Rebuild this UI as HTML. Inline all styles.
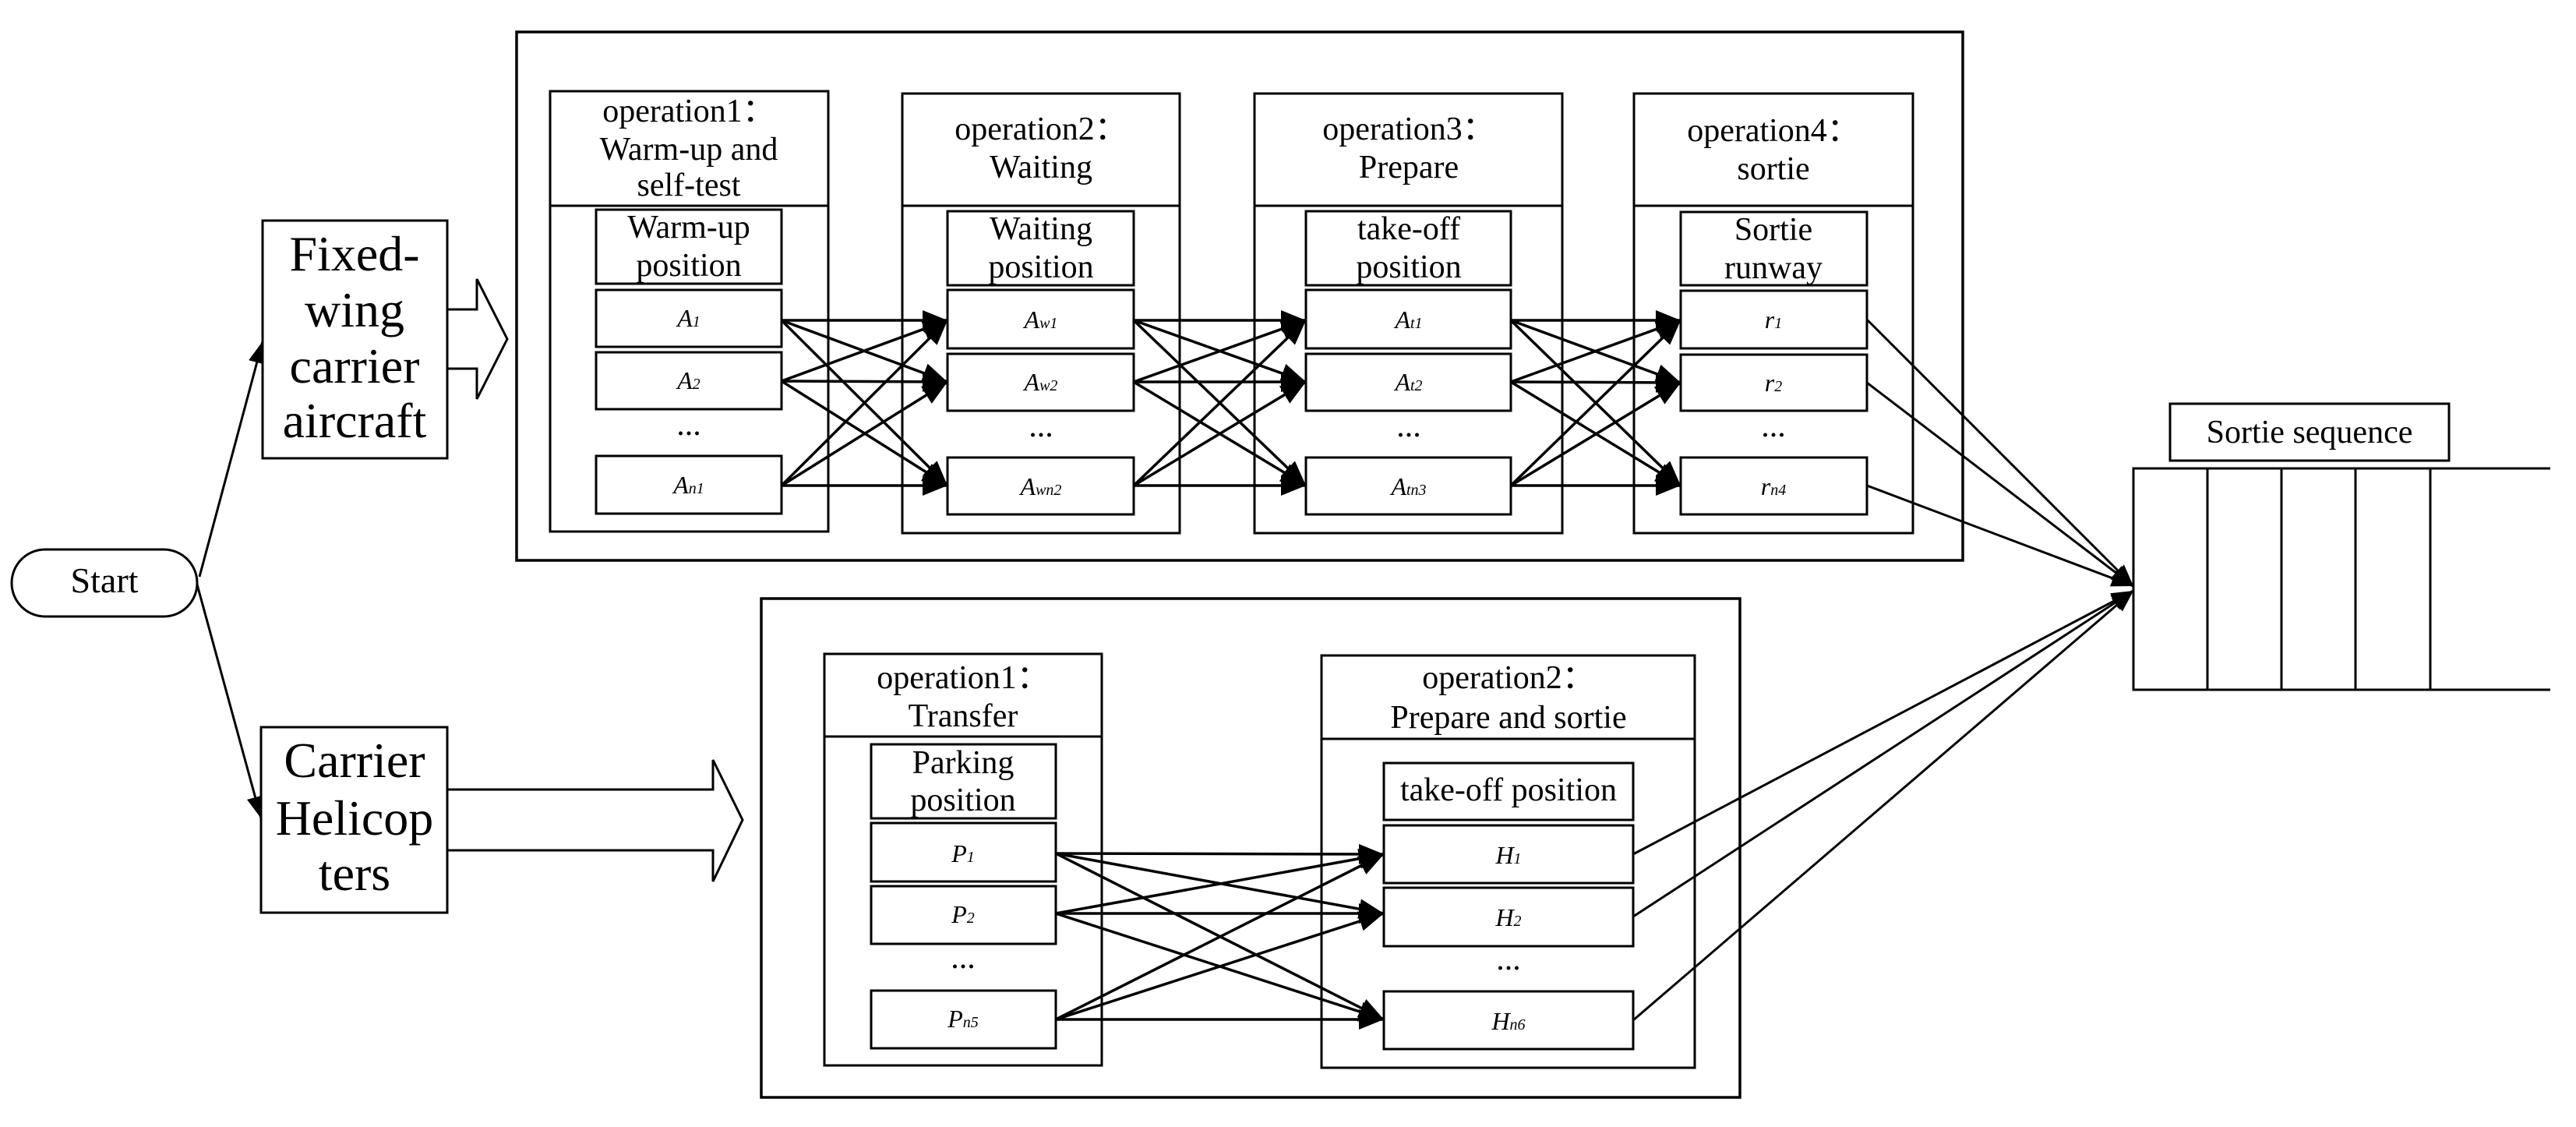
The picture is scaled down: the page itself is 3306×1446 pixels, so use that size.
<!DOCTYPE html>
<html><head><meta charset="utf-8"><style>
html,body{margin:0;padding:0;background:#fff}
svg{display:block}
text{font-family:"Liberation Serif",serif;fill:#000}
.h{font-size:42px;text-anchor:middle}
.big{font-size:64px;text-anchor:middle}
.it{font-size:32px;font-style:italic;text-anchor:middle}
.sub{font-size:20px}
.b{fill:#fff;stroke:#000;stroke-width:3}
.l{stroke:#000;stroke-width:3.5;fill:none}
.t{stroke:#000;stroke-width:3;fill:none}
</style></head><body>
<svg width="3306" height="1446" viewBox="0 0 3306 1446" xmlns="http://www.w3.org/2000/svg">
<defs>
<marker id="ar" markerUnits="userSpaceOnUse" markerWidth="34" markerHeight="26" refX="32" refY="13" orient="auto">
<path d="M0,0 L32,13 L0,26 z" fill="#000"/></marker>
<marker id="ar2" markerUnits="userSpaceOnUse" markerWidth="30" markerHeight="22" refX="28" refY="11" orient="auto">
<path d="M0,0 L28,11 L0,22 z" fill="#000"/></marker>
</defs>

<!-- Start -->
<rect x="15" y="705" width="238" height="86" rx="43" class="b"/>
<text x="134" y="760" style="font-size:46px;text-anchor:middle">Start</text>
<line x1="256" y1="740" x2="337" y2="438" class="t" marker-end="url(#ar2)"/>
<line x1="253" y1="750" x2="335" y2="1050" class="t" marker-end="url(#ar2)"/>

<!-- Fixed-wing -->
<rect x="337" y="283" width="237" height="305" class="b"/>
<text class="big" x="455" y="347">Fixed-</text>
<text class="big" x="455" y="419">wing</text>
<text class="big" x="455" y="491">carrier</text>
<text class="big" x="455" y="561">aircraft</text>
<path d="M574,397 L612,397 L612,358 L651,435 L612,512 L612,473 L574,473" class="t"/>

<!-- Carrier Helicopters -->
<rect x="335" y="933" width="239" height="238" class="b"/>
<text class="big" x="455" y="997">Carrier</text>
<text class="big" x="455" y="1071">Helicop</text>
<text class="big" x="455" y="1142">ters</text>
<path d="M574,1013 L915,1013 L915,975 L953,1052 L915,1131 L915,1091 L574,1091" class="t"/>

<!-- Upper outer -->
<rect x="663" y="41" width="1856" height="678" class="b" style="stroke-width:3.5"/>

<!-- op1 -->
<rect x="706" y="117" width="357" height="565" class="b"/>
<line x1="706" y1="264" x2="1063" y2="264" class="t"/>
<text class="h" x="884" y="156">operation1：</text>
<text class="h" x="884" y="205">Warm-up and</text>
<text class="h" x="884" y="251">self-test</text>
<rect x="765" y="269" width="238" height="95" class="b"/>
<text class="h" x="884" y="305">Warm-up</text>
<text class="h" x="884" y="354">position</text>
<rect x="765" y="372" width="238" height="73" class="b"/>
<rect x="765" y="452" width="238" height="73" class="b"/>
<rect x="765" y="585" width="238" height="74" class="b"/>
<text class="it" x="884" y="419">A<tspan class="sub">1</tspan></text>
<text class="it" x="884" y="499">A<tspan class="sub">2</tspan></text>
<text class="h" x="884" y="558">...</text>
<text class="it" x="884" y="633">A<tspan class="sub">n1</tspan></text>

<!-- op2 -->
<rect x="1158" y="120" width="356" height="564" class="b"/>
<line x1="1158" y1="264" x2="1514" y2="264" class="t"/>
<text class="h" x="1336" y="179">operation2：</text>
<text class="h" x="1336" y="228">Waiting</text>
<rect x="1216" y="271" width="239" height="95" class="b"/>
<text class="h" x="1336" y="307">Waiting</text>
<text class="h" x="1336" y="356">position</text>
<rect x="1216" y="372" width="239" height="75" class="b"/>
<rect x="1216" y="454" width="239" height="73" class="b"/>
<rect x="1216" y="587" width="239" height="73" class="b"/>
<text class="it" x="1336" y="421">A<tspan class="sub">w1</tspan></text>
<text class="it" x="1336" y="501">A<tspan class="sub">w2</tspan></text>
<text class="h" x="1336" y="560">...</text>
<text class="it" x="1336" y="635">A<tspan class="sub">wn2</tspan></text>

<!-- op3 -->
<rect x="1610" y="120" width="395" height="564" class="b"/>
<line x1="1610" y1="264" x2="2005" y2="264" class="t"/>
<text class="h" x="1808" y="179">operation3：</text>
<text class="h" x="1808" y="228">Prepare</text>
<rect x="1676" y="271" width="263" height="95" class="b"/>
<text class="h" x="1808" y="307">take-off</text>
<text class="h" x="1808" y="356">position</text>
<rect x="1676" y="372" width="263" height="75" class="b"/>
<rect x="1676" y="454" width="263" height="73" class="b"/>
<rect x="1676" y="587" width="263" height="73" class="b"/>
<text class="it" x="1808" y="421">A<tspan class="sub">t1</tspan></text>
<text class="it" x="1808" y="501">A<tspan class="sub">t2</tspan></text>
<text class="h" x="1808" y="560">...</text>
<text class="it" x="1808" y="635">A<tspan class="sub">tn3</tspan></text>

<!-- op4 -->
<rect x="2097" y="120" width="358" height="564" class="b"/>
<line x1="2097" y1="264" x2="2455" y2="264" class="t"/>
<text class="h" x="2276" y="181">operation4：</text>
<text class="h" x="2276" y="230">sortie</text>
<rect x="2157" y="272" width="239" height="94" class="b"/>
<text class="h" x="2276" y="308">Sortie</text>
<text class="h" x="2276" y="357">runway</text>
<rect x="2157" y="373" width="239" height="74" class="b"/>
<rect x="2157" y="455" width="239" height="72" class="b"/>
<rect x="2157" y="587" width="239" height="73" class="b"/>
<text class="it" x="2276" y="421">r<tspan class="sub">1</tspan></text>
<text class="it" x="2276" y="502">r<tspan class="sub">2</tspan></text>
<text class="h" x="2276" y="560">...</text>
<text class="it" x="2276" y="635">r<tspan class="sub">n4</tspan></text>

<!-- stage arrows -->
<g class="l" marker-end="url(#ar)">
<path d="M1003,411 L1216,411"/><path d="M1003,411 L1216,490"/><path d="M1003,411 L1216,623"/>
<path d="M1003,489 L1216,411"/><path d="M1003,489 L1216,490"/><path d="M1003,489 L1216,623"/>
<path d="M1003,623 L1216,411"/><path d="M1003,623 L1216,490"/><path d="M1003,623 L1216,623"/>
<path d="M1455,411 L1676,411"/><path d="M1455,411 L1676,490"/><path d="M1455,411 L1676,623"/>
<path d="M1455,490 L1676,411"/><path d="M1455,490 L1676,490"/><path d="M1455,490 L1676,623"/>
<path d="M1455,623 L1676,411"/><path d="M1455,623 L1676,490"/><path d="M1455,623 L1676,623"/>
<path d="M1939,411 L2157,411"/><path d="M1939,411 L2157,491"/><path d="M1939,411 L2157,623"/>
<path d="M1939,490 L2157,411"/><path d="M1939,490 L2157,491"/><path d="M1939,490 L2157,623"/>
<path d="M1939,623 L2157,411"/><path d="M1939,623 L2157,491"/><path d="M1939,623 L2157,623"/>
</g>

<!-- Lower outer -->
<rect x="977" y="768" width="1256" height="640" class="b" style="stroke-width:3.5"/>
<rect x="1058" y="839" width="356" height="528" class="b"/>
<line x1="1058" y1="945" x2="1414" y2="945" class="t"/>
<text class="h" x="1236" y="883">operation1：</text>
<text class="h" x="1236" y="932">Transfer</text>
<rect x="1118" y="955" width="237" height="95" class="b"/>
<text class="h" x="1236" y="992">Parking</text>
<text class="h" x="1236" y="1040">position</text>
<rect x="1118" y="1056" width="237" height="75" class="b"/>
<rect x="1118" y="1137" width="237" height="74" class="b"/>
<rect x="1118" y="1271" width="237" height="74" class="b"/>
<text class="it" x="1236" y="1106">P<tspan class="sub">1</tspan></text>
<text class="it" x="1236" y="1184">P<tspan class="sub">2</tspan></text>
<text class="h" x="1236" y="1242">...</text>
<text class="it" x="1236" y="1318">P<tspan class="sub">n5</tspan></text>

<rect x="1696" y="841" width="479" height="529" class="b"/>
<line x1="1696" y1="948" x2="2175" y2="948" class="t"/>
<text class="h" x="1936" y="883">operation2：</text>
<text class="h" x="1936" y="934">Prepare and sortie</text>
<rect x="1776" y="979" width="320" height="73" class="b"/>
<text class="h" x="1936" y="1027">take-off position</text>
<rect x="1776" y="1059" width="320" height="74" class="b"/>
<rect x="1776" y="1139" width="320" height="75" class="b"/>
<rect x="1776" y="1272" width="320" height="74" class="b"/>
<text class="it" x="1936" y="1108">H<tspan class="sub">1</tspan></text>
<text class="it" x="1936" y="1188">H<tspan class="sub">2</tspan></text>
<text class="h" x="1936" y="1244">...</text>
<text class="it" x="1936" y="1321">H<tspan class="sub">n6</tspan></text>

<g class="l" marker-end="url(#ar)">
<path d="M1355,1095 L1776,1096"/><path d="M1355,1095 L1776,1172"/><path d="M1355,1095 L1776,1308"/>
<path d="M1355,1172 L1776,1096"/><path d="M1355,1172 L1776,1172"/><path d="M1355,1172 L1776,1308"/>
<path d="M1355,1308 L1776,1096"/><path d="M1355,1308 L1776,1172"/><path d="M1355,1308 L1776,1308"/>
</g>

<!-- Sortie sequence -->
<rect x="2785" y="518" width="358" height="73" class="b"/>
<text class="h" x="2964" y="568">Sortie sequence</text>
<path d="M3273,601 L2738,601 L2738,885 L3273,885" class="t"/>
<line x1="2833" y1="601" x2="2833" y2="885" class="t"/>
<line x1="2928" y1="601" x2="2928" y2="885" class="t"/>
<line x1="3023" y1="601" x2="3023" y2="885" class="t"/>
<line x1="3119" y1="601" x2="3119" y2="885" class="t"/>

<g class="t" marker-end="url(#ar2)">
<path d="M2396,410 L2738,752"/><path d="M2396,491 L2738,752"/><path d="M2396,623 L2738,752"/>
<path d="M2096,1096 L2738,758"/><path d="M2096,1176 L2738,758"/><path d="M2096,1309 L2738,758"/>
</g>
</svg>
</body></html>
